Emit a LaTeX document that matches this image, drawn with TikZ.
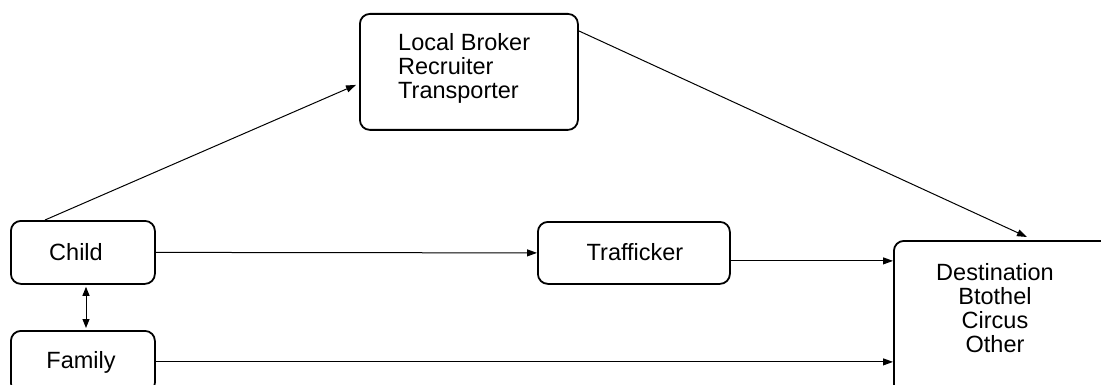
\documentclass[tikz,border=0pt]{standalone}
\usepackage{fontspec}
\setmainfont{Liberation Sans}
\usetikzlibrary{arrows.meta,calc}
\begin{document}
\begin{tikzpicture}[x=1pt,y=-1pt,
  box/.style={draw,line width=1.8pt,rounded corners=10pt,inner sep=0pt},
  lbl/.style={font=\fontsize{23.5pt}{24pt}\selectfont,inner sep=0pt,text depth=0pt},
  arr/.style={line width=1pt,-{Triangle[length=10pt,width=7pt]}},
  darr/.style={line width=1pt,{Triangle[length=9pt,width=7pt]}-{Triangle[length=9pt,width=7pt]}}]
\useasboundingbox (0,0) rectangle (1101,385);
\clip (0,0) rectangle (1101,385);
% boxes
\node[box,anchor=north west,minimum width=144pt,minimum height=63pt] (child) at (10,220) {};
\node[box,anchor=north west,minimum width=144pt,minimum height=62pt] (family) at (10,330) {};
\node[box,anchor=north west,minimum width=192pt,minimum height=62pt] (traf) at (537,221) {};
\node[box,anchor=north west,minimum width=218pt,minimum height=116pt] (broker) at (359,13) {};
\node[box,anchor=north west,minimum width=230pt,minimum height=170pt] (dest) at (893,240) {};
% texts
\node[lbl] (childtext) at (76,251.5) {Child};
\node[lbl] (familytext) at (81,359.5) {Family};
\node[lbl] (traftext) at (635,251.5) {Trafficker};
\node[lbl,align=left,anchor=north west] (brokertext) at (398,33.6) {Local Broker\\Recruiter\\Transporter};
\node[lbl,align=center,anchor=north] (desttext) at (995,263) {Destination\\Btothel\\Circus\\Other};
% connectors
\coordinate (c1) at ($(child.north west)+(35,0)$);
\coordinate (b1) at ($(broker.west)+(-3,13)$);
\draw[arr] (c1) -- (b1);
\coordinate (b2) at ($(broker.east)+(0,-41)$);
\coordinate (d1) at ($(dest.north west)+(134,-3)$);
\draw[arr] (b2) -- (d1);
\draw[arr] (child.east) -- (traf.west);
\coordinate (t1) at ($(traf.east)+(0,8)$);
\draw[arr] (t1) -- (t1 -| dest.west);
\draw[arr] (family.east) -- (family.east -| dest.west);
\coordinate (cf1) at ($(child.south west)+(76,2)$);
\coordinate (cf2) at ($(family.north west)+(76,-2)$);
\draw[darr] (cf1) -- (cf2);
\end{tikzpicture}
\end{document}
